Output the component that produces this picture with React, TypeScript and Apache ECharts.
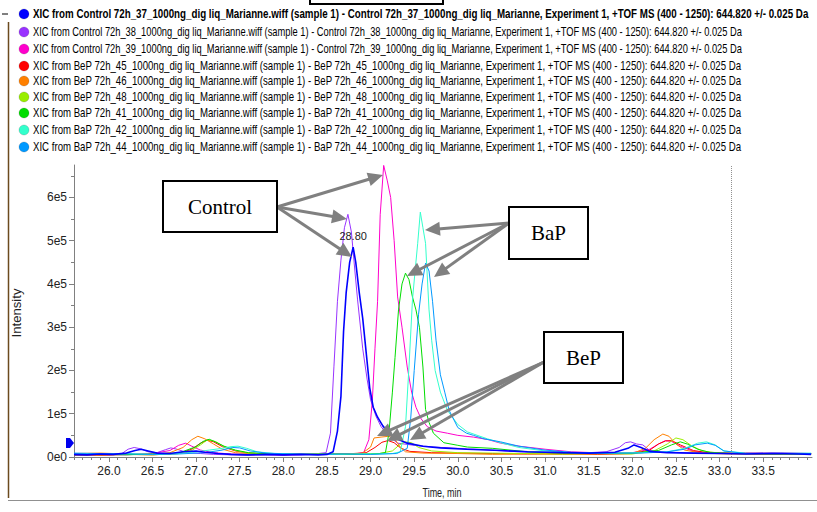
import React, { useEffect, useRef } from "react";
import * as echarts from "echarts";

type Pt = [number, number];

// ---------- DATA (time in min, intensity in thousands of counts) ----------
const legendLabels: string[] = [
  "XIC from Control 72h_37_1000ng_dig liq_Marianne.wiff (sample 1) - Control 72h_37_1000ng_dig liq_Marianne, Experiment 1, +TOF MS (400 - 1250): 644.820 +/- 0.025 Da",
  "XIC from Control 72h_38_1000ng_dig liq_Marianne.wiff (sample 1) - Control 72h_38_1000ng_dig liq_Marianne, Experiment 1, +TOF MS (400 - 1250): 644.820 +/- 0.025 Da",
  "XIC from Control 72h_39_1000ng_dig liq_Marianne.wiff (sample 1) - Control 72h_39_1000ng_dig liq_Marianne, Experiment 1, +TOF MS (400 - 1250): 644.820 +/- 0.025 Da",
  "XIC from BeP 72h_45_1000ng_dig liq_Marianne.wiff (sample 1) - BeP 72h_45_1000ng_dig liq_Marianne, Experiment 1, +TOF MS (400 - 1250): 644.820 +/- 0.025 Da",
  "XIC from BeP 72h_46_1000ng_dig liq_Marianne.wiff (sample 1) - BeP 72h_46_1000ng_dig liq_Marianne, Experiment 1, +TOF MS (400 - 1250): 644.820 +/- 0.025 Da",
  "XIC from BeP 72h_48_1000ng_dig liq_Marianne.wiff (sample 1) - BeP 72h_48_1000ng_dig liq_Marianne, Experiment 1, +TOF MS (400 - 1250): 644.820 +/- 0.025 Da",
  "XIC from BaP 72h_41_1000ng_dig liq_Marianne.wiff (sample 1) - BaP 72h_41_1000ng_dig liq_Marianne, Experiment 1, +TOF MS (400 - 1250): 644.820 +/- 0.025 Da",
  "XIC from BaP 72h_42_1000ng_dig liq_Marianne.wiff (sample 1) - BaP 72h_42_1000ng_dig liq_Marianne, Experiment 1, +TOF MS (400 - 1250): 644.820 +/- 0.025 Da",
  "XIC from BaP 72h_44_1000ng_dig liq_Marianne.wiff (sample 1) - BaP 72h_44_1000ng_dig liq_Marianne, Experiment 1, +TOF MS (400 - 1250): 644.820 +/- 0.025 Da",
];

const seriesColors: string[] = [
  "#0000ff", "#9933ff", "#ff00cc", "#ff0000", "#ff8000", "#99ee00", "#00dd00", "#33ffcc", "#0099ff",
];

const control37: Pt[] = [
  [25.6, 6], [25.75, 5], [25.9, 7], [26.05, 6], [26.2, 9], [26.3, 15], [26.37, 18], [26.45, 14], [26.55, 9],
  [26.7, 8], [26.85, 12], [27.0, 14], [27.1, 11], [27.25, 8], [27.4, 6], [27.6, 5], [27.8, 6], [28.0, 5],
  [28.2, 6], [28.4, 5], [28.5, 6], [28.57, 12], [28.62, 60], [28.66, 140], [28.69, 290], [28.72, 380],
  [28.76, 450], [28.8, 485], [28.83, 450], [28.87, 380], [28.91, 320], [28.95, 240], [28.99, 160],
  [29.03, 115], [29.08, 92], [29.14, 72], [29.2, 58], [29.3, 42], [29.42, 32], [29.6, 25], [29.8, 21],
  [30.1, 18], [30.5, 15], [30.8, 12], [31.2, 10], [31.5, 9], [31.8, 11], [31.95, 20], [32.02, 28],
  [32.1, 22], [32.2, 13], [32.4, 10], [32.7, 9], [33.0, 8], [33.3, 7], [33.6, 8], [33.9, 7], [34.05, 6],
];
const control38: Pt[] = [
  [25.6, 4], [25.8, 5], [26.0, 4], [26.15, 8], [26.22, 18], [26.29, 22], [26.36, 19], [26.45, 12], [26.55, 10],
  [26.65, 17], [26.71, 21], [26.78, 18], [26.9, 10], [27.05, 8], [27.2, 6], [27.4, 5], [27.6, 4], [27.8, 5],
  [28.0, 4], [28.2, 5], [28.4, 8], [28.49, 10], [28.54, 55], [28.58, 210], [28.62, 360], [28.66, 455],
  [28.7, 530], [28.74, 561], [28.78, 520], [28.82, 430], [28.85, 365], [28.91, 250], [28.96, 180], [29.0, 132],
  [29.06, 95], [29.12, 70], [29.2, 50], [29.31, 32], [29.5, 27], [29.72, 23], [30.0, 20], [30.3, 17],
  [30.6, 13], [31.0, 10], [31.4, 9], [31.7, 12], [31.85, 22], [31.92, 33], [31.98, 35], [32.05, 30],
  [32.12, 28], [32.2, 15], [32.4, 11], [32.7, 9], [33.0, 10], [33.3, 8], [33.7, 9], [34.05, 8],
];
const control39: Pt[] = [
  [25.6, 5], [25.9, 6], [26.2, 5], [26.5, 8], [26.7, 15], [26.8, 27], [26.88, 32], [26.95, 25], [27.05, 16],
  [27.2, 10], [27.4, 7], [27.7, 6], [28.0, 5], [28.3, 6], [28.6, 7], [28.85, 8], [28.92, 10], [28.98, 40],
  [29.02, 130], [29.05, 250], [29.08, 360], [29.11, 560], [29.15, 674], [29.19, 640], [29.23, 600],
  [29.27, 500], [29.31, 370], [29.36, 300], [29.42, 208], [29.47, 150], [29.52, 115], [29.58, 88],
  [29.65, 70], [29.75, 60], [29.88, 55], [30.0, 50], [30.18, 46], [30.35, 40], [30.49, 32], [30.7, 25],
  [31.0, 18], [31.3, 12], [31.7, 9], [32.0, 10], [32.2, 18], [32.3, 30], [32.38, 38], [32.45, 36],
  [32.55, 25], [32.7, 13], [33.0, 9], [33.3, 10], [33.7, 9], [34.05, 8],
];
const bep45: Pt[] = [
  [25.6, 5], [25.9, 4], [26.2, 6], [26.5, 5], [26.8, 8], [26.95, 18], [27.05, 32], [27.13, 39], [27.2, 35],
  [27.3, 24], [27.45, 14], [27.6, 9], [27.9, 6], [28.2, 7], [28.5, 6], [28.8, 8], [28.95, 10], [29.05, 22],
  [29.13, 34], [29.2, 38], [29.27, 33], [29.35, 20], [29.45, 13], [29.7, 10], [30.0, 9], [30.4, 8],
  [30.8, 7], [31.2, 8], [31.6, 6], [32.0, 8], [32.2, 16], [32.3, 30], [32.38, 37], [32.45, 38], [32.55, 28],
  [32.7, 15], [32.9, 9], [33.2, 8], [33.6, 7], [34.05, 8],
];
const bep46: Pt[] = [
  [25.6, 8], [25.9, 9], [26.2, 7], [26.5, 6], [26.7, 10], [26.85, 22], [26.95, 40], [27.02, 48], [27.1, 42],
  [27.2, 30], [27.3, 18], [27.45, 10], [27.7, 7], [28.0, 6], [28.3, 7], [28.6, 6], [28.9, 8], [29.0, 23],
  [29.04, 44], [29.12, 46], [29.21, 48], [29.28, 40], [29.31, 32], [29.34, 23], [29.4, 12], [29.6, 9],
  [30.0, 8], [30.4, 6], [30.8, 7], [31.2, 6], [31.6, 7], [32.0, 8], [32.15, 20], [32.25, 40], [32.35, 53],
  [32.42, 48], [32.5, 30], [32.6, 16], [32.8, 9], [33.1, 7], [33.5, 6], [34.05, 7],
];
const bep48: Pt[] = [
  [25.6, 6], [25.9, 5], [26.2, 6], [26.5, 5], [26.8, 8], [26.95, 15], [27.05, 28], [27.13, 40], [27.22, 36],
  [27.32, 24], [27.45, 15], [27.6, 9], [27.9, 7], [28.2, 6], [28.5, 7], [28.8, 6], [29.1, 8], [29.25, 14],
  [29.33, 28], [29.4, 35], [29.47, 33], [29.55, 22], [29.7, 14], [30.0, 10], [30.4, 9], [30.8, 8],
  [31.2, 7], [31.6, 8], [32.0, 7], [32.25, 14], [32.4, 30], [32.5, 44], [32.58, 40], [32.68, 26],
  [32.8, 14], [33.0, 9], [33.4, 8], [33.8, 7], [34.05, 6],
];
const bap41: Pt[] = [
  [25.6, 5], [25.9, 6], [26.2, 5], [26.5, 7], [26.8, 9], [27.0, 24], [27.08, 36], [27.15, 41], [27.22, 35],
  [27.32, 25], [27.45, 16], [27.6, 10], [27.9, 7], [28.2, 6], [28.5, 7], [28.8, 6], [29.0, 7], [29.1, 8],
  [29.17, 10], [29.21, 55], [29.25, 150], [29.28, 230], [29.32, 340], [29.36, 400], [29.4, 425],
  [29.44, 410], [29.48, 370], [29.52, 340], [29.56, 300], [29.6, 208], [29.63, 110], [29.67, 80],
  [29.72, 55], [29.84, 33], [30.0, 27], [30.11, 23], [30.4, 20], [30.8, 12], [31.2, 9], [31.6, 8],
  [32.0, 9], [32.3, 15], [32.45, 28], [32.55, 35], [32.63, 30], [32.75, 18], [32.9, 10], [33.2, 8],
  [33.6, 7], [34.05, 7],
];
const bap42: Pt[] = [
  [25.6, 8], [25.9, 7], [26.2, 8], [26.5, 6], [26.8, 8], [27.0, 12], [27.15, 16], [27.3, 20], [27.4, 24],
  [27.48, 25], [27.58, 20], [27.7, 12], [27.9, 8], [28.2, 7], [28.5, 6], [28.8, 7], [29.1, 7], [29.25, 8],
  [29.34, 12], [29.4, 70], [29.44, 208], [29.48, 363], [29.51, 430], [29.54, 494], [29.57, 566],
  [29.6, 530], [29.63, 494], [29.67, 340], [29.7, 270], [29.74, 200], [29.8, 150], [29.88, 108],
  [30.0, 75], [30.11, 58], [30.34, 42], [30.49, 33], [30.7, 22], [31.0, 14], [31.3, 10], [31.7, 9],
  [32.1, 10], [32.4, 12], [32.6, 20], [32.75, 32], [32.85, 35], [32.95, 28], [33.05, 14], [33.3, 9],
  [33.7, 8], [34.05, 9],
];
const bap44: Pt[] = [
  [25.6, 9], [25.9, 8], [26.2, 7], [26.5, 6], [26.8, 7], [27.1, 10], [27.3, 16], [27.42, 22], [27.5, 21],
  [27.62, 14], [27.8, 9], [28.1, 7], [28.4, 6], [28.7, 7], [29.0, 6], [29.3, 8], [29.42, 20], [29.46, 90],
  [29.5, 200], [29.55, 330], [29.59, 400], [29.63, 448], [29.67, 430], [29.71, 360], [29.75, 270],
  [29.8, 190], [29.85, 150], [29.9, 108], [30.0, 68], [30.1, 55], [30.18, 50], [30.3, 42], [30.49, 35],
  [30.7, 25], [31.0, 16], [31.3, 11], [31.7, 9], [32.1, 9], [32.4, 12], [32.6, 18], [32.72, 28],
  [32.86, 32], [32.95, 27], [33.05, 14], [33.3, 8], [33.7, 9], [34.05, 8],
];

const allSeries: Pt[][] = [control37, control38, control39, bep45, bep46, bep48, bap41, bap42, bap44];

const xTickValues: number[] = [26.0, 26.5, 27.0, 27.5, 28.0, 28.5, 29.0, 29.5, 30.0, 30.5, 31.0, 31.5, 32.0, 32.5, 33.0, 33.5];
const xTickLabels: string[] = ["26.0", "26.5", "27.0", "27.5", "28.0", "28.5", "29.0", "29.5", "30.0", "30.5", "31.0", "31.5", "32.0", "32.5", "33.0", "33.5"];
const yTickValues: number[] = [0, 100000, 200000, 300000, 400000, 500000, 600000];
const yTickLabels: string[] = ["0e0", "1e5", "2e5", "3e5", "4e5", "5e5", "6e5"];
const cursorTime = 33.14;
const annotations = { control: "Control", bap: "BaP", bep: "BeP" };
const axisTitles = { x: "Time, min", y: "Intensity" };

// ---------- LAYOUT ----------
const X_MIN = 25.6;
const X_MAX = 34.06;
const Y_MAX = 675000;
const NARROW = "'Liberation Sans Narrow', 'Liberation Sans', Arial, sans-serif";
const LEG_FONT = "'Liberation Sans', Arial, sans-serif";
const legendRowY = [14, 32, 49, 66, 81, 97, 113, 130, 147];

function arrow(x1: number, y1: number, x2: number, y2: number): any[] {
  const dx = x2 - x1, dy = y2 - y1;
  const L = Math.hypot(dx, dy);
  const ux = dx / L, uy = dy / L;
  const head = 15, hw = 7;
  const bx = x2 - ux * head, by = y2 - uy * head;
  return [
    { type: "line", z: 100, shape: { x1, y1, x2: bx + ux * 2, y2: by + uy * 2 }, style: { stroke: "#808080", lineWidth: 3 } },
    {
      type: "polygon", z: 100,
      shape: { points: [[x2, y2], [bx - uy * hw, by + ux * hw], [bx + uy * hw, by - ux * hw]] },
      style: { fill: "#808080" },
    },
  ];
}

function box(x: number, y: number, w: number, h: number, label: string): any[] {
  return [
    { type: "rect", z: 101, shape: { x, y, width: w, height: h }, style: { fill: "#fff", stroke: "#000", lineWidth: 2 } },
    {
      type: "text", z: 102, x: x + w / 2, y: y + h / 2,
      style: { text: label, fill: "#000", font: "21px 'Liberation Serif', 'Times New Roman', serif", align: "center", verticalAlign: "middle", textAlign: "center", textVerticalAlign: "middle" },
    },
  ];
}

export default function App() {
  const ref = useRef<HTMLDivElement>(null);

  useEffect(() => {
    if (!ref.current) return;
    const chart = echarts.init(ref.current, undefined, { renderer: "svg" });

    const canvas = document.createElement("canvas");
    const ctx = canvas.getContext("2d")!;
    const measure = (t: string, font: string) => {
      ctx.font = font;
      return ctx.measureText(t).width;
    };
    const normalFont = `12px ${LEG_FONT}`;
    const boldFont = `bold 12px ${LEG_FONT}`;
    const titleFont = `12px ${LEG_FONT}`;

    const legendGraphics: any[] = [];
    legendLabels.forEach((label, i) => {
      const y = legendRowY[i];
      const font = i === 0 ? boldFont : normalFont;
      const target = i === 0 ? 776 : 709;
      const s = target / measure(label, font);
      legendGraphics.push({ type: "circle", z: 100, shape: { cx: 24, cy: y, r: 5 }, style: { fill: seriesColors[i], stroke: "rgba(0,0,0,0.3)", lineWidth: 0.5 } });
      legendGraphics.push({
        type: "text", z: 100, x: 33, y, scaleX: s,
        style: { text: label, fill: "#000", font, verticalAlign: "middle", textVerticalAlign: "middle" },
      });
    });

    // peak apex of the highlighted trace
    let apex: Pt = control37[0];
    control37.forEach((p) => { if (p[1] > apex[1]) apex = p; });

    const xMinor: number[] = [];
    for (let k = Math.ceil(X_MIN * 10); k <= Math.floor(X_MAX * 10); k++) xMinor.push(k / 10);
    const yMinor: number[] = [];
    for (let k = 0; k * 50000 <= Y_MAX; k++) yMinor.push(k * 50000);

    const axisGray = "#808080";
    const series: any[] = allSeries.map((d, i) => ({
      type: "line",
      name: legendLabels[i],
      data: d.map(([t, v]) => [t, v * 1000]),
      showSymbol: false,
      symbol: "none",
      z: i === 0 ? 5 : 2,
      lineStyle: { color: seriesColors[i], width: i === 0 ? 1.6 : 1 },
      itemStyle: { color: seriesColors[i] },
      silent: true,
    }));
    series[0].markPoint = {
      symbol: "circle", symbolSize: 1, itemStyle: { color: "rgba(0,0,0,0)" },
      label: { show: true, position: "top", distance: 5, color: "#222", fontSize: 11, fontFamily: NARROW, formatter: apex[0].toFixed(2) },
      data: [{ coord: [apex[0], apex[1] * 1000] }],
    };
    series[0].markLine = {
      symbol: "none", silent: true, label: { show: false },
      lineStyle: { type: "dotted", color: "#909090", width: 1 },
      data: [{ xAxis: cursorTime }],
    };
    const ordered = [...series.slice(1), series[0]];

    const option: any = {
      animation: false,
      backgroundColor: "#fff",
      grid: { left: 74, right: 5, top: 165, bottom: 55, containLabel: false },
      xAxis: [
        {
          type: "value", min: X_MIN, max: X_MAX, position: "bottom",
          axisLine: { show: true, onZero: false, lineStyle: { color: axisGray, width: 1 } },
          axisTick: { show: true, customValues: xTickValues, length: 5, lineStyle: { color: axisGray } },
          axisLabel: {
            show: true, customValues: xTickValues, margin: 8, color: "#222", fontSize: 12, fontFamily: NARROW,
            formatter: (v: number) => xTickLabels[xTickValues.findIndex((t) => Math.abs(t - v) < 1e-6)] ?? "",
          },
          splitLine: { show: false },
        },
        {
          type: "value", min: X_MIN, max: X_MAX, position: "bottom",
          axisLine: { show: false, onZero: false },
          axisTick: { show: true, customValues: xMinor, length: 3, lineStyle: { color: axisGray } },
          axisLabel: { show: false },
          splitLine: { show: false },
        },
      ],
      yAxis: [
        {
          type: "value", min: 0, max: Y_MAX, position: "left",
          axisLine: { show: true, onZero: false, lineStyle: { color: axisGray, width: 1 } },
          axisTick: { show: true, customValues: yTickValues, length: 5, lineStyle: { color: axisGray } },
          axisLabel: {
            show: true, customValues: yTickValues, margin: 7, color: "#222", fontSize: 12, fontFamily: NARROW,
            formatter: (v: number) => yTickLabels[yTickValues.indexOf(v)] ?? "",
          },
          splitLine: { show: false },
        },
        {
          type: "value", min: 0, max: Y_MAX, position: "left",
          axisLine: { show: false, onZero: false },
          axisTick: { show: true, customValues: yMinor, length: 3, lineStyle: { color: axisGray } },
          axisLabel: { show: false },
          splitLine: { show: false },
        },
      ],
      series: ordered,
      graphic: [
        // top box fragment
        { type: "rect", z: 100, shape: { x: 310, y: -10, width: 133, height: 14 }, style: { fill: "none", stroke: "#000", lineWidth: 2 } },
        // tree collapse sign
        { type: "line", z: 100, shape: { x1: 2, y1: 14, x2: 8, y2: 14 }, style: { stroke: "#000", lineWidth: 1 } },
        // left brown frame line and bottom line
        { type: "line", z: 100, shape: { x1: 8.5, y1: 22, x2: 8.5, y2: 498 }, style: { stroke: "#6b4a1e", lineWidth: 1.5 } },
        { type: "line", z: 100, shape: { x1: 8, y1: 500.5, x2: 817, y2: 500.5 }, style: { stroke: "#909090", lineWidth: 1 } },
        ...legendGraphics,
        // axis titles
        {
          type: "text", z: 100, x: 17, y: 313, rotation: Math.PI / 2,
          scaleX: 49 / measure(axisTitles.y, titleFont),
          style: { text: axisTitles.y, fill: "#222", font: titleFont, align: "center", verticalAlign: "middle", textAlign: "center", textVerticalAlign: "middle" },
        },
        {
          type: "text", z: 100, x: 442, y: 492,
          scaleX: 39 / measure(axisTitles.x, titleFont),
          style: { text: axisTitles.x, fill: "#222", font: titleFont, align: "center", verticalAlign: "middle", textAlign: "center", textVerticalAlign: "middle" },
        },
        // threshold marker
        { type: "polygon", z: 100, shape: { points: [[66, 438], [70, 438], [74, 443], [70, 448], [66, 448]] }, style: { fill: "#0000ee" } },
        // arrows
        ...arrow(277, 207, 383, 175),
        ...arrow(277, 207, 347, 219),
        ...arrow(277, 207, 352, 257),
        ...arrow(509, 223, 425, 230),
        ...arrow(509, 223, 407, 276),
        ...arrow(509, 223, 434, 277),
        ...arrow(544, 362, 377, 436),
        ...arrow(544, 362, 387, 441),
        ...arrow(544, 362, 410, 440),
        ...box(163, 181, 114, 51, annotations.control),
        ...box(509, 207, 79, 52, annotations.bap),
        ...box(544, 332, 79, 51, annotations.bep),
      ],
    };

    chart.setOption(option);
    return () => chart.dispose();
  }, []);

  return <div ref={ref} style={{ position: "fixed", left: 0, top: 0, width: 817, height: 512 }} />;
}
